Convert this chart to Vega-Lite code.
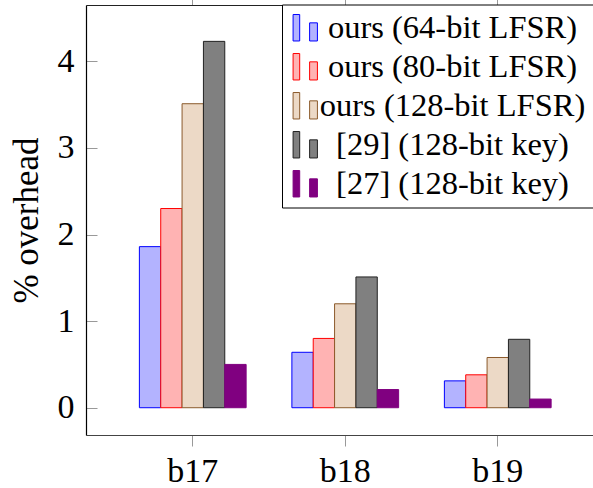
{
  "$schema": "https://vega.github.io/schema/vega-lite/v6.json",
  "width": 507,
  "height": 430,
  "autosize": {"type": "none"},
  "padding": {"left": 86, "top": 5, "right": 0, "bottom": 53},
  "config": {
    "view": {"stroke": null},
    "font": "Liberation Serif",
    "axis": {"labelFont": "Liberation Serif", "titleFont": "Liberation Serif", "labelColor": "#000", "titleColor": "#000", "grid": false},
    "legend": {"labelFont": "Liberation Serif", "labelColor": "#000", "labelLimit": 400}
  },
  "data": {
    "values": [
      {"bench": "b17", "method": "ours (64-bit LFSR)", "overhead": 1.86},
      {"bench": "b17", "method": "ours (80-bit LFSR)", "overhead": 2.30},
      {"bench": "b17", "method": "ours (128-bit LFSR)", "overhead": 3.51},
      {"bench": "b17", "method": "[29] (128-bit key)", "overhead": 4.23},
      {"bench": "b17", "method": "[27] (128-bit key)", "overhead": 0.50},
      {"bench": "b18", "method": "ours (64-bit LFSR)", "overhead": 0.64},
      {"bench": "b18", "method": "ours (80-bit LFSR)", "overhead": 0.80},
      {"bench": "b18", "method": "ours (128-bit LFSR)", "overhead": 1.20},
      {"bench": "b18", "method": "[29] (128-bit key)", "overhead": 1.51},
      {"bench": "b18", "method": "[27] (128-bit key)", "overhead": 0.21},
      {"bench": "b19", "method": "ours (64-bit LFSR)", "overhead": 0.31},
      {"bench": "b19", "method": "ours (80-bit LFSR)", "overhead": 0.38},
      {"bench": "b19", "method": "ours (128-bit LFSR)", "overhead": 0.58},
      {"bench": "b19", "method": "[29] (128-bit key)", "overhead": 0.79},
      {"bench": "b19", "method": "[27] (128-bit key)", "overhead": 0.10}
    ]
  },
  "layer": [
    {
      "mark": {"type": "bar", "strokeWidth": 1},
      "encoding": {
        "x": {
          "field": "bench", "type": "nominal",
          "scale": {"type": "band", "paddingInner": 0.3, "paddingOuter": 0.35, "range": [0, 518.5]},
          "axis": {"orient": "bottom", "title": null, "labelAngle": 0, "labelFontSize": 34, "labelPadding": 8,
                   "domainColor": "#444", "domainWidth": 1, "tickColor": "#999", "tickSize": 11, "tickWidth": 1}
        },
        "xOffset": {
          "field": "method", "type": "nominal",
          "sort": ["ours (64-bit LFSR)", "ours (80-bit LFSR)", "ours (128-bit LFSR)", "[29] (128-bit key)", "[27] (128-bit key)"],
          "scale": {"paddingInner": 0, "paddingOuter": 0}
        },
        "y": {
          "field": "overhead", "type": "quantitative",
          "scale": {"domain": [-0.315, 4.65], "nice": false, "zero": false},
          "axis": {"title": "% overhead", "titleFontSize": 35, "titleFontWeight": "normal", "titlePadding": 13,
                   "values": [0, 1, 2, 3, 4], "labelFontSize": 34, "tickSize": -11, "labelPadding": 23,
                   "domainColor": "#000", "domainWidth": 1.2, "tickColor": "#999", "tickWidth": 1}
        },
        "color": {
          "field": "method", "type": "nominal",
          "sort": ["ours (64-bit LFSR)", "ours (80-bit LFSR)", "ours (128-bit LFSR)", "[29] (128-bit key)", "[27] (128-bit key)"],
          "scale": {
            "domain": ["ours (64-bit LFSR)", "ours (80-bit LFSR)", "ours (128-bit LFSR)", "[29] (128-bit key)", "[27] (128-bit key)"],
            "range": ["#b3b3ff", "#ffb3b3", "#ecd9c6", "#808080", "#800080"]
          },
          "legend": {
            "title": null, "orient": "none", "legendX": 196, "legendY": -0.5,
            "labelFontSize": 32.5, "labelAlign": "center", "labelOffset": 131, "labelLimit": 400,
            "symbolType": "M-0.92,-1H-0.42V1H-0.92Z M0.33,-0.37H0.92V1H0.33Z",
            "symbolSize": 700, "symbolStrokeWidth": 1, "symbolOpacity": 1,
            "rowPadding": 6, "padding": 7,
            "strokeColor": "#000", "fillColor": "#fff"
          }
        },
        "stroke": {
          "field": "method", "type": "nominal",
          "sort": ["ours (64-bit LFSR)", "ours (80-bit LFSR)", "ours (128-bit LFSR)", "[29] (128-bit key)", "[27] (128-bit key)"],
          "scale": {
            "domain": ["ours (64-bit LFSR)", "ours (80-bit LFSR)", "ours (128-bit LFSR)", "[29] (128-bit key)", "[27] (128-bit key)"],
            "range": ["#0000ff", "#ff0000", "#8b5a2b", "#222222", "#800080"]
          },
          "legend": {
            "title": null, "orient": "none", "legendX": 196, "legendY": -0.5,
            "labelFontSize": 32.5, "labelAlign": "center", "labelOffset": 131, "labelLimit": 400,
            "symbolType": "M-0.92,-1H-0.42V1H-0.92Z M0.33,-0.37H0.92V1H0.33Z",
            "symbolSize": 700, "symbolStrokeWidth": 1, "symbolOpacity": 1,
            "rowPadding": 6, "padding": 7,
            "strokeColor": "#000", "fillColor": "#fff"
          }
        }
      }
    },
    {
      "mark": {"type": "tick", "opacity": 0},
      "encoding": {
        "x": {
          "field": "bench", "type": "nominal",
          "axis": {"orient": "top", "title": null, "labels": false, "domainColor": "#222", "domainWidth": 1,
                   "tickColor": "#999", "tickSize": 11, "tickWidth": 1}
        }
      }
    }
  ],
  "resolve": {"axis": {"x": "independent"}}
}
